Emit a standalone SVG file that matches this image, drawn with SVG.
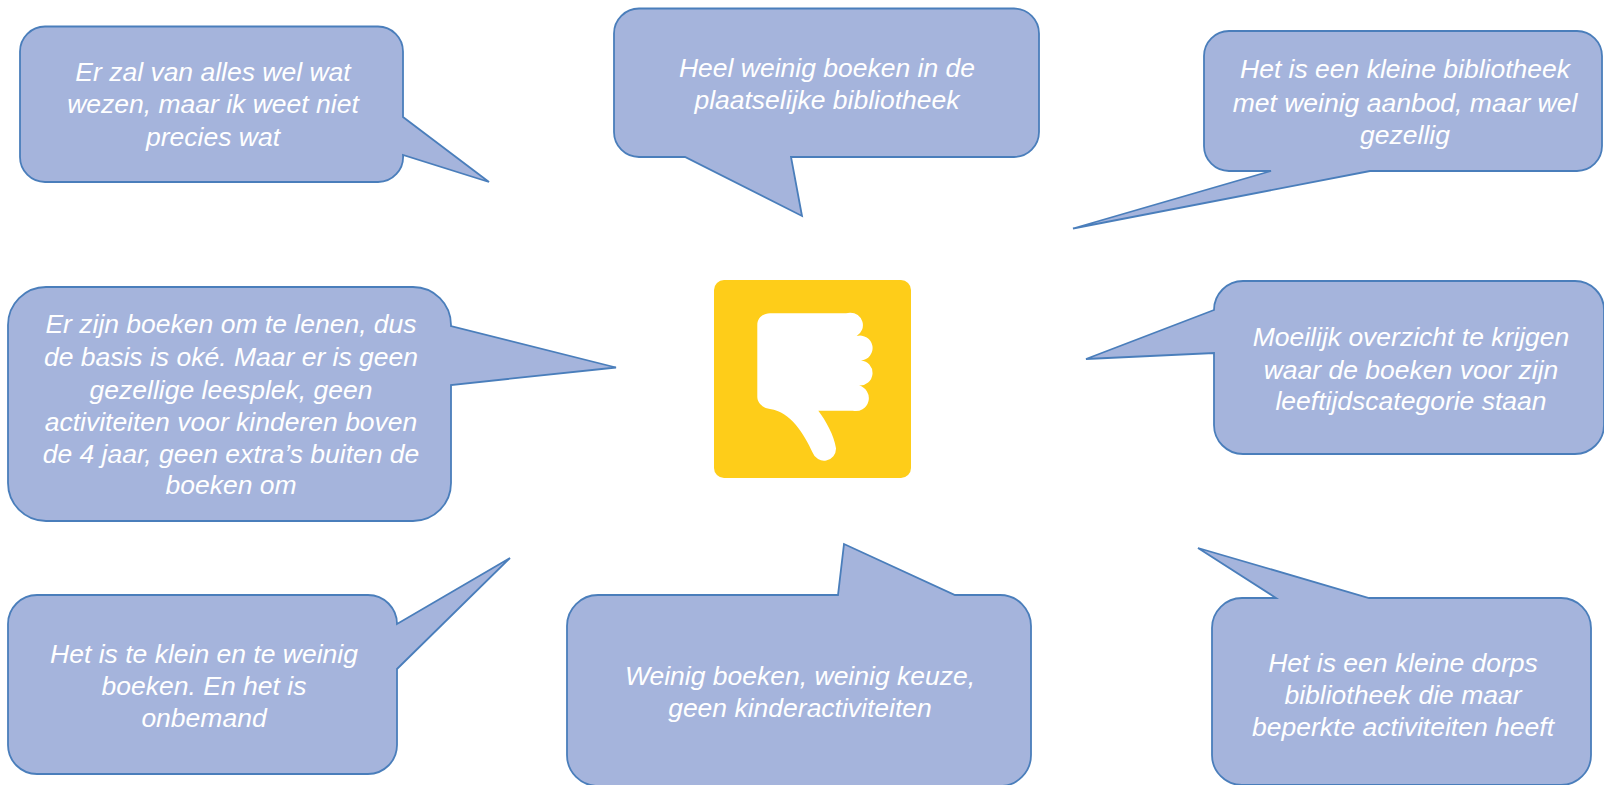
<svg xmlns="http://www.w3.org/2000/svg" width="1604" height="785" viewBox="0 0 1604 785">
<style>
.b{fill:#a5b4dc;stroke:#4a7ebb;stroke-width:1.8;stroke-linejoin:miter}
text{font-family:"Liberation Sans",Arial,sans-serif;font-style:italic;font-size:26.5px;fill:#fff;text-anchor:middle}
</style>
<rect width="1604" height="785" fill="#fff"/>
<g id="bubble1"><path class="b" d="M45 26.500H378A25 25 0 0 1 403 51.500V117L489 182L403 155A25 25 0 0 1 378 182H45A25 25 0 0 1 20 157V51.500A25 25 0 0 1 45 26.500Z"/>
<text x="213" y="81">Er zal van alles wel wat</text><text x="213" y="113">wezen, maar ik weet niet</text><text x="213" y="146">precies wat</text></g>
<g id="bubble2"><path class="b" d="M639 8.500H1014A25 25 0 0 1 1039 33.500V132A25 25 0 0 1 1014 157H791L802 216L685 157H639A25 25 0 0 1 614 132V33.500A25 25 0 0 1 639 8.500Z"/>
<text x="827" y="77">Heel weinig boeken in de</text><text x="827" y="109">plaatselijke bibliotheek</text></g>
<g id="bubble3"><path class="b" d="M1229 31H1577A25 25 0 0 1 1602 56V146A25 25 0 0 1 1577 171H1370L1073 228.500L1271 171H1229A25 25 0 0 1 1204 146V56A25 25 0 0 1 1229 31Z"/>
<text x="1405" y="78">Het is een kleine bibliotheek</text><text x="1405" y="112">met weinig aanbod, maar wel</text><text x="1405" y="144">gezellig</text></g>
<g id="bubble4"><path class="b" d="M46 287H413A38 38 0 0 1 451 325V326L616 367.500L451 385V483A38 38 0 0 1 413 521H46A38 38 0 0 1 8 483V325A38 38 0 0 1 46 287Z"/>
<text x="231" y="333">Er zijn boeken om te lenen, dus</text><text x="231" y="366">de basis is oké. Maar er is geen</text><text x="231" y="399">gezellige leesplek, geen</text><text x="231" y="431">activiteiten voor kinderen boven</text><text x="231" y="463">de 4 jaar, geen extra’s buiten de</text><text x="231" y="494">boeken om</text></g>
<g id="bubble5"><path class="b" d="M1243 281H1575A29 29 0 0 1 1604 310V425A29 29 0 0 1 1575 454H1243A29 29 0 0 1 1214 425V353L1086 359L1214 310A29 29 0 0 1 1243 281Z"/>
<text x="1411" y="346">Moeilijk overzicht te krijgen</text><text x="1411" y="379">waar de boeken voor zijn</text><text x="1411" y="410">leeftijdscategorie staan</text></g>
<g id="bubble6"><path class="b" d="M37 595H368A29 29 0 0 1 397 624L510 558L397 669V745A29 29 0 0 1 368 774H37A29 29 0 0 1 8 745V624A29 29 0 0 1 37 595Z"/>
<text x="204" y="663">Het is te klein en te weinig</text><text x="204" y="695">boeken. En het is</text><text x="204" y="727">onbemand</text></g>
<g id="bubble7"><path class="b" d="M598 595H838L844 544L955 595H1000A31 31 0 0 1 1031 626V755A31 31 0 0 1 1000 786H598A31 31 0 0 1 567 755V626A31 31 0 0 1 598 595Z"/>
<text x="800" y="685">Weinig boeken, weinig keuze,</text><text x="800" y="717">geen kinderactiviteiten</text></g>
<g id="bubble8"><path class="b" d="M1242 598H1276L1198 548L1369 598H1561A30 30 0 0 1 1591 628V755A30 30 0 0 1 1561 785H1242A30 30 0 0 1 1212 755V628A30 30 0 0 1 1242 598Z"/>
<text x="1403" y="672">Het is een kleine dorps</text><text x="1403" y="704">bibliotheek die maar</text><text x="1403" y="736">beperkte activiteiten heeft</text></g>
<g id="icon"><rect x="714" y="280" width="197" height="198" rx="10" fill="#fecd19"/>
<path fill="#fff" d="M757.3 325C757.3 318 763 313.3 770 313.3H846L850 312.7A12.5 12.5 0 0 1 856.7 336A12.5 12.5 0 1 1 861 360.500A12.5 12.5 0 0 1 859 385.500A12.5 12.5 0 0 1 852.7 410.7H818.3C826 421 834 435 836 448.3A12 12 0 0 1 812.7 452.7C804 434 791 412 770 409C763 408 757.3 403 757.3 396.7Z"/></g>
<g id="connectors"/>
</svg>
